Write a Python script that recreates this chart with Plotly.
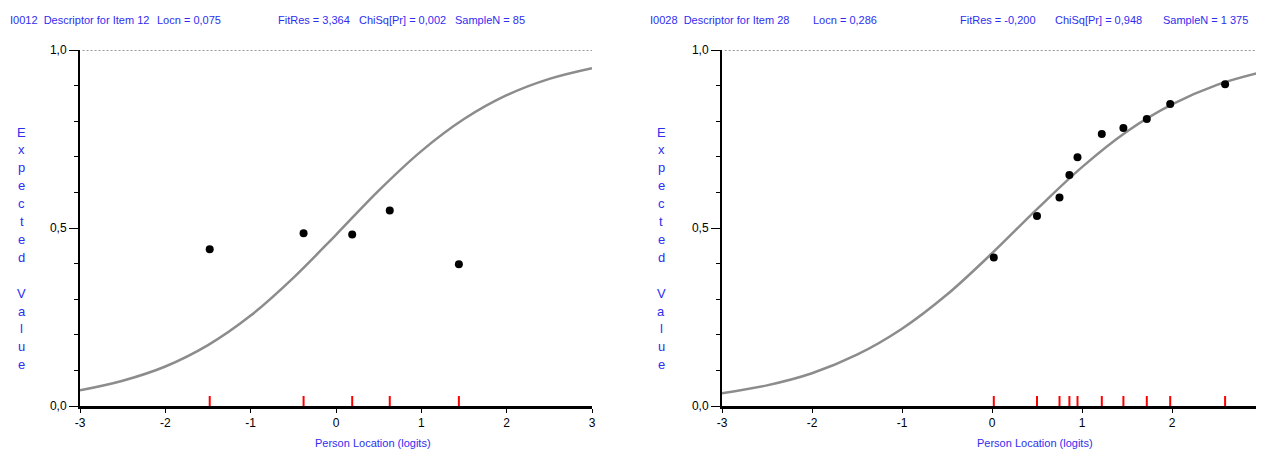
import plotly.graph_objects as go

# The page body adds an 8 px margin, so the figure is drawn 8 px smaller
OFF = 8
W, H = 1264 - OFF, 454 - OFF

# ---- data ----
curve_x = [-3.0, -2.5, -2.0, -1.5, -1.0, -0.5, 0.0, 0.5, 1.0, 1.5, 2.0, 2.5, 3.0]
curve_left = [0.044, 0.071, 0.111, 0.171, 0.254, 0.360, 0.481, 0.605, 0.716, 0.806, 0.873, 0.919, 0.949]
curve_right = [0.036, 0.058, 0.092, 0.144, 0.217, 0.313, 0.429, 0.553, 0.671, 0.771, 0.847, 0.902, 0.938]

obs_left_x = [-1.48, -0.38, 0.19, 0.63, 1.44]
obs_left_y = [0.440, 0.485, 0.482, 0.549, 0.398]
obs_right_x = [0.02, 0.50, 0.75, 0.86, 0.95, 1.22, 1.46, 1.72, 1.98, 2.59]
obs_right_y = [0.417, 0.534, 0.586, 0.649, 0.699, 0.764, 0.781, 0.806, 0.848, 0.904]

x_ticks = [-3, -2, -1, 0, 1, 2, 3]
x_ticklabels = ["-3", "-2", "-1", "0", "1", "2", "3"]
y_ticks = [0.0, 0.5, 1.0]
y_ticklabels = ["0,0", "0,5", "1,0"]

header_left = ["I0012  Descriptor for Item 12", "Locn = 0,075",
               "FitRes = 3,364", "ChiSq[Pr] = 0,002", "SampleN = 85"]
header_right = ["I0028  Descriptor for Item 28", "Locn = 0,286",
                "FitRes = -0,200", "ChiSq[Pr] = 0,948", "SampleN = 1 375"]
y_title = "Expected Value"
x_title = "Person Location (logits)"

FONT = "Liberation Sans, Arial, sans-serif"
BLUE = "#2e2ef0"


def px(x):
    return max(x - OFF, 0) / W


def py(y):
    return 1 - (y - OFF) / H


def tfont(size, color):
    return dict(family=FONT, size=size, color=color)


fig = go.Figure()

panels = [
    dict(xa="x", ya="y", cy=curve_left, ox=obs_left_x, oy=obs_left_y,
         header=header_left, hx=[8, 155, 276, 357, 453], ytx=22, xtx=373),
    dict(xa="x2", ya="y2", cy=curve_right, ox=obs_right_x, oy=obs_right_y,
         header=header_right, hx=[648, 811, 958, 1053, 1161], ytx=661, xtx=1035),
]

annotations = []
shapes = []
for p in panels:
    fig.add_trace(go.Scatter(x=curve_x, y=p["cy"], mode="lines", xaxis=p["xa"], yaxis=p["ya"],
                             line=dict(color="#8c8c8c", width=2.5, shape="spline"),
                             showlegend=False, hoverinfo="skip"))
    fig.add_trace(go.Scatter(x=p["ox"], y=p["oy"], mode="markers", xaxis=p["xa"], yaxis=p["ya"],
                             marker=dict(color="black", size=8, symbol="circle"),
                             showlegend=False))
    for xv in p["ox"]:
        shapes.append(dict(type="line", xref=p["xa"], yref=p["ya"], ysizemode="pixel",
                           yanchor=0, x0=xv, x1=xv, y0=0, y1=10,
                           line=dict(color="red", width=2)))
    shapes.append(dict(type="line", xref=p["xa"], yref=p["ya"], x0=-2.97, x1=3, y0=1, y1=1,
                       line=dict(color="#333333", width=1, dash="2px,2px")))
    for t, hx in zip(p["header"], p["hx"]):
        annotations.append(dict(text=t, x=px(hx), y=py(20), xref="paper", yref="paper",
                                xanchor="left", yanchor="middle", showarrow=False,
                                font=tfont(11, BLUE)))
    row = 0
    for ch in y_title:
        if ch != " ":
            annotations.append(dict(text=ch, x=px(p["ytx"]), y=py(132 + row * 17.9),
                                    xref="paper", yref="paper", xanchor="center",
                                    yanchor="middle", showarrow=False,
                                    font=tfont(13, BLUE)))
        row += 1
    annotations.append(dict(text=x_title, x=px(p["xtx"]), y=py(443), xref="paper", yref="paper",
                            xanchor="center", yanchor="middle", showarrow=False,
                            font=tfont(11, BLUE)))

ydom = [py(406), py(50)]
common_x = dict(range=[-3, 3], tickvals=x_ticks, ticktext=x_ticklabels, ticks="outside",
                ticklen=4, tickwidth=1, tickcolor="black", showline=True, linecolor="black",
                linewidth=3, showgrid=False, zeroline=False, automargin=False,
                tickfont=tfont(12, "black"), fixedrange=True)
common_y = dict(range=[0, 1], tickvals=y_ticks, ticktext=y_ticklabels, ticks="outside",
                ticklen=9, tickwidth=1, tickcolor="black", showline=True, linecolor="black",
                linewidth=2, showgrid=False, zeroline=False, automargin=False,
                minor=dict(dtick=0.1, tick0=0, ticks="outside", ticklen=4, tickcolor="black",
                           tickwidth=1, showgrid=False),
                tickfont=tfont(12, "black"), fixedrange=True)

fig.update_layout(
    width=W, height=H, margin=dict(l=0, r=0, t=0, b=0, autoexpand=False),
    paper_bgcolor="white", plot_bgcolor="white",
    xaxis=dict(domain=[px(80), px(592)], anchor="y", **common_x),
    yaxis=dict(domain=ydom, anchor="x", **common_y),
    xaxis2=dict(domain=[px(722), min(px(1262), 1.0)], anchor="y2", **common_x),
    yaxis2=dict(domain=ydom, anchor="x2", **common_y),
    annotations=annotations, shapes=shapes, showlegend=False,
)

fig.write_html("out.html")
